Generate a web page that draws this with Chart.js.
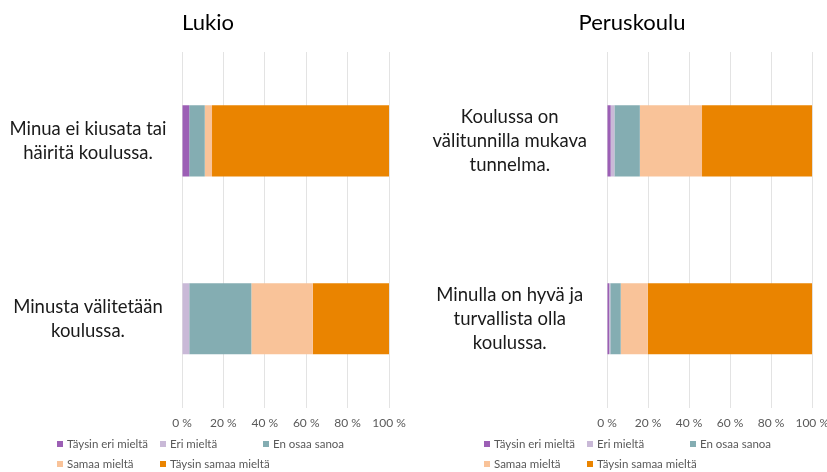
<!DOCTYPE html>
<html>
<head>
<meta charset="utf-8">
<script src="https://cdn.jsdelivr.net/npm/chart.js@4/dist/chart.umd.min.js"></script>
<style>
  html, body { margin: 0; padding: 0; background: #fff; overflow: hidden; width: 827px; height: 472px; }
  #wrap { position: relative; width: 827px; height: 472px; overflow: hidden; }
  canvas { position: absolute; top: 0; }
  #c1 { left: 0px; }
  #c2 { left: 427px; }
</style>
</head>
<body>
<div id="wrap">
  <canvas id="c1" width="416" height="472"></canvas>
  <canvas id="c2" width="410" height="472"></canvas>
</div>
<script>
// ---- Data ----
const titleLukio = 'Lukio';
const titlePeruskoulu = 'Peruskoulu';

const categoriesLukio = [
  ['Minua ei kiusata tai', 'häiritä koulussa.'],
  ['Minusta välitetään', 'koulussa.']
];
const categoriesPeruskoulu = [
  ['Koulussa on', 'välitunnilla mukava', 'tunnelma.'],
  ['Minulla on hyvä ja', 'turvallista olla', 'koulussa.']
];

const seriesLabels = ['Täysin eri mieltä', 'Eri mieltä', 'En osaa sanoa', 'Samaa mieltä', 'Täysin samaa mieltä'];
const seriesColors = ['#9C5FB5', '#C9B9D7', '#84ADB2', '#F9C399', '#EA8400'];

// Lukio values (%)
const lukioTaysinEri   = [3.5, 0];
const lukioEri         = [0, 3.5];
const lukioEnOsaa      = [7.5, 30.0];
const lukioSamaa       = [3.5, 29.7];
const lukioTaysinSamaa = [85.5, 36.8];

// Peruskoulu values (%)
const perusTaysinEri   = [1.8, 1.0];
const perusEri         = [1.8, 0.6];
const perusEnOsaa      = [12.4, 5.1];
const perusSamaa       = [30.3, 13.2];
const perusTaysinSamaa = [53.7, 80.1];

const xTicks = [0, 20, 40, 60, 80, 100];

// ---- Helpers ----
const FONT = 'Lato, "Liberation Sans", sans-serif';

function legendPlugin(offsetX) {
  return {
    id: 'gridLegend',
    afterDraw(chart) {
      const ctx = chart.ctx;
      ctx.save();
      ctx.font = '11.5px ' + FONT;
      ctx.textBaseline = 'middle';
      ctx.textAlign = 'left';
      chart.data.datasets.forEach((ds, i) => {
        const col = i % 3, row = Math.floor(i / 3);
        const x = offsetX + col * 103;
        const y = 444 + row * 20;
        ctx.fillStyle = ds.backgroundColor;
        ctx.fillRect(x, y - 3, 6, 6);
        ctx.fillStyle = '#595959';
        ctx.fillText(ds.label, x + 10, y + 0.5);
      });
      ctx.restore();
    }
  };
}

// shifts the left edge of the title box so the title is centred like the reference
function titleShiftPlugin(titleLeft) {
  return {
    id: 'titleShift',
    afterLayout(chart) {
      if (chart.titleBlock) chart.titleBlock.left = titleLeft;
    }
  };
}

function makeChart(id, title, cats, series, yWidth, yPad, padRight, legendX, titleLeft) {
  const datasets = series.map((vals, i) => ({
    label: seriesLabels[i],
    data: vals,
    backgroundColor: seriesColors[i],
    borderWidth: 0,
    categoryPercentage: 0.4,
    barPercentage: 1.0
  }));
  return new Chart(document.getElementById(id), {
    type: 'bar',
    data: { labels: cats, datasets },
    options: {
      indexAxis: 'y',
      responsive: false,
      animation: false,
      devicePixelRatio: 1,
      layout: { padding: { left: 0, right: padRight, top: 0, bottom: 34 } },
      plugins: {
        legend: { display: false },
        tooltip: { enabled: false },
        title: {
          display: true,
          text: title,
          color: '#000',
          font: { family: FONT, size: 22, weight: 'normal' },
          padding: { top: 10, bottom: 15.6 }
        }
      },
      scales: {
        x: {
          stacked: true,
          min: 0, max: 100,
          afterBuildTicks(scale) { scale.ticks = xTicks.map(v => ({ value: v })); },
          ticks: {
            color: '#595959',
            font: { family: FONT, size: 12 },
            padding: 8,
            maxRotation: 0,
            callback: v => v + ' %'
          },
          grid: { color: '#E3E3E3', lineWidth: 1, drawTicks: false },
          border: { display: false }
        },
        y: {
          stacked: true,
          afterFit(scale) {
            scale.width = yWidth;
            scale.paddingTop = 0;
            scale.paddingBottom = 0;
          },
          ticks: {
            color: '#1A1A1A',
            font: { family: FONT, size: 18.5, lineHeight: 1.3 },
            crossAlign: 'center',
            padding: yPad
          },
          grid: { display: false, drawTicks: false },
          border: { display: false }
        }
      }
    },
    plugins: [legendPlugin(legendX), titleShiftPlugin(titleLeft)]
  });
}

makeChart('c1', titleLukio, categoriesLukio,
  [lukioTaysinEri, lukioEri, lukioEnOsaa, lukioSamaa, lukioTaysinSamaa], 182, 15.5, 27, 57, 27);
makeChart('c2', titlePeruskoulu, categoriesPeruskoulu,
  [perusTaysinEri, perusEri, perusEnOsaa, perusSamaa, perusTaysinSamaa], 180, 20, 23, 57, 23);
</script>
</body>
</html>
